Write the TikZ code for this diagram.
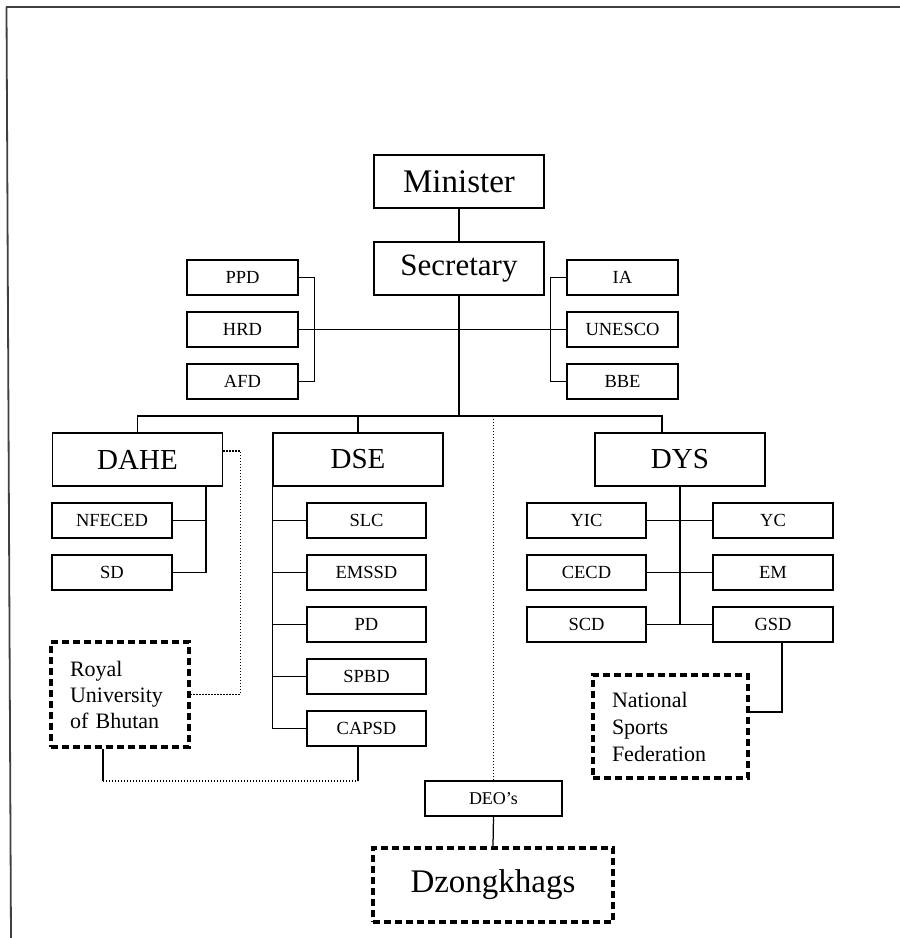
\documentclass[tikz,border=0pt]{standalone}
\usepackage{fontspec}
\setmainfont{Liberation Serif}

\begin{document}
\begin{tikzpicture}[x=1pt, y=-1pt, line width=1.25pt,
    bigbox/.style={draw, inner sep=0pt, minimum width=170pt, minimum height=53pt, font=\fontsize{29}{32}\selectfont},
    smallbox/.style={draw, inner sep=0pt, minimum height=35pt, font=\fontsize{18.5}{20}\selectfont},
    outerbox/.style={draw, line width=3.2pt, dash pattern=on 7pt off 4pt, inner sep=0pt},
    dotline/.style={line width=1.1pt, dash pattern=on 1.4pt off 1.6pt}]
    \useasboundingbox (0,0) rectangle (900,938);

    % Page frame (only top and left edge show)
    \draw[black!75, line width=1.8pt] (6,7) -- (900,7);
    \draw[black!75, line width=1.8pt] (6.5,7) -- (11,938);

    % Minister and Secretary
    \node[bigbox, font=\fontsize{33}{36}\selectfont] (min) at (459,181.5) {Minister};
    \node[bigbox, font=\fontsize{31}{34}\selectfont] (sec) at (459,268.5) {Secretary};
    \draw (min) -- (sec);

    % Units beside the Secretary
    \foreach \name/\txt/\y in {ppd/PPD/277.5, hrd/HRD/329.5, afd/AFD/381.5}
        \node[smallbox, minimum width=111pt] (\name) at (242.5,\y) {\txt};
    \foreach \name/\txt/\y in {ia/IA/277.5, unesco/UNESCO/329.5, bbe/BBE/381.5}
        \node[smallbox, minimum width=111pt] (\name) at (622.5,\y) {\txt};
    \draw (ppd.east) -- ++(16,0) |- (afd.east);
    \draw (ia.west) -- ++(-16,0) |- (bbe.west);
    \draw (hrd.east) -- (unesco.west);

    % Departments
    \coordinate (busR) at (662,416);
    \node[bigbox] (dahe) at (137.5,459.5) {DAHE};
    \node[bigbox] (dse) at (358,459.5) {DSE};
    \node[bigbox] (dys) at (680,459.5) {DYS};
    \draw (sec.south) -- (sec.south |- busR);
    \draw (dahe.north) |- (busR) -- (busR |- dys.north);
    \draw (dse.north) -- (dse.north |- busR);

    % DAHE units
    \foreach \name/\txt/\y in {nfeced/NFECED/520.5, sd/SD/572.5}
        \node[smallbox, minimum width=120pt] (\name) at (112,\y) {\txt};
    \coordinate (dahetap) at (206,486);
    \draw (dahetap) |- (sd.east);
    \draw (nfeced.east) -- (nfeced.east -| dahetap);
    \node[outerbox, minimum width=138pt, minimum height=105pt, text width=100pt, align=left,
          font=\fontsize{22}{26}\selectfont] (rub) at (120,694.5) {Royal\\University\\of Bhutan};
    \draw[dotline] ([yshift=8.5pt]dahe.east) -- ++(17,0) |- (rub.east);

    % DSE units
    \foreach \name/\txt/\y in {slc/SLC/520.5, emssd/EMSSD/572.5, pd/PD/624.5, spbd/SPBD/676.5, capsd/CAPSD/728.5}
        \node[smallbox, minimum width=119pt] (\name) at (366.5,\y) {\txt};
    \draw (dse.south west) |- (capsd.west);
    \foreach \name in {slc, emssd, pd, spbd}
        \draw (\name.west) -- (\name.west -| dse.south west);

    % Link between RUB and CAPSD
    \coordinate (rubfoot) at (103,781);
    \coordinate (capfoot) at (358,781);
    \draw ([xshift=-17pt]rub.south) -- (rubfoot);
    \draw (capsd.south -| capfoot) -- (capfoot);
    \draw[dotline] (rubfoot) -- (capfoot);

    % DYS units
    \foreach \lname/\ltxt/\rname/\rtxt/\y in {yic/YIC/yc/YC/520.5, cecd/CECD/em/EM/572.5, scd/SCD/gsd/GSD/624.5} {
        \node[smallbox, minimum width=119pt] (\lname) at (586.5,\y) {\ltxt};
        \node[smallbox, minimum width=120pt] (\rname) at (773,\y) {\rtxt};
        \draw (\lname.east) -- (\rname.west);
    }
    \draw (dys.south) -- (dys.south |- scd.east);
    \node[outerbox, minimum width=155pt, minimum height=103pt, text width=117pt, align=left,
          font=\fontsize{22}{27}\selectfont] (nsf) at (670.5,726.5) {National\\Sports\\Federation};
    \coordinate (nsftap) at (748,712);
    \draw ([xshift=9pt]gsd.south) |- (nsftap);

    % District level
    \node[smallbox, minimum width=137pt, font=\fontsize{18}{20}\selectfont] (deo) at (493.5,798.5) {DEO's};
    \node[outerbox, minimum width=240pt, minimum height=74pt, font=\fontsize{33}{36}\selectfont] (dzong) at (493,885) {Dzongkhags};
    \draw[dotline] (deo.north) -- (deo.north |- busR);
    \draw (deo.south) -- (dzong.north);
\end{tikzpicture}
\end{document}
